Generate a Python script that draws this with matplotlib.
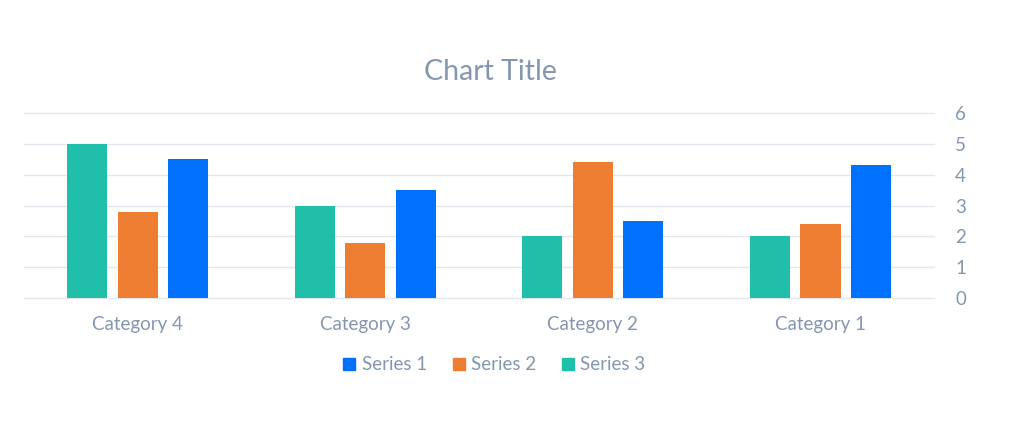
import matplotlib.pyplot as plt
import numpy as np
from matplotlib.lines import Line2D

categories = ['Category 4', 'Category 3', 'Category 2', 'Category 1']
series1 = [4.5, 3.5, 2.5, 4.3]
series2 = [2.8, 1.8, 4.4, 2.4]
series3 = [5.0, 3.0, 2.0, 2.0]

c1 = '#0070FF'
c2 = '#ED7D31'
c3 = '#20BFAA'
txt = '#8497B0'
grid = '#E3E6EC'

plt.rcParams['font.family'] = ['Lato', 'DejaVu Sans']

fig = plt.figure(figsize=(10.24, 4.36), dpi=100)
ax = fig.add_axes([0.0234, 0.3165, 0.889, 0.4243])

x = np.arange(len(categories))
w = 0.176
off = 0.222
ax.bar(x - off, series3, w, color=c3, zorder=3)
ax.bar(x, series2, w, color=c2, zorder=3)
ax.bar(x + off, series1, w, color=c1, zorder=3)

ax.set_xlim(-0.5, 3.5)
ax.set_ylim(0, 6)
ax.set_xticks(x)
ax.set_xticklabels(categories)
ax.set_yticks(range(7))
ax.yaxis.tick_right()
ax.tick_params(axis='both', length=0, colors=txt, labelsize=13.5)
ax.tick_params(axis='x', pad=13)
ax.tick_params(axis='y', pad=15)
ax.grid(axis='y', color=grid, linewidth=1, zorder=0)
for gl in ax.get_ygridlines():
    gl.set_clip_on(False)
for s in ax.spines.values():
    s.set_visible(False)

fig.text(0.479, 0.835, 'Chart Title', ha='center', va='center', color=txt, fontsize=20.5)

handles = [Line2D([], [], marker='s', linestyle='', color=c, markersize=9) for c in (c1, c2, c3)]
fig.legend(handles, ['Series 1', 'Series 2', 'Series 3'], loc='center', bbox_to_anchor=(0.481, 0.163),
           ncol=3, frameon=False, fontsize=13.5, labelcolor=txt, handletextpad=0.15, columnspacing=1.2,
           handlelength=1.0)

fig.savefig('out.png', dpi=100, facecolor='white')
